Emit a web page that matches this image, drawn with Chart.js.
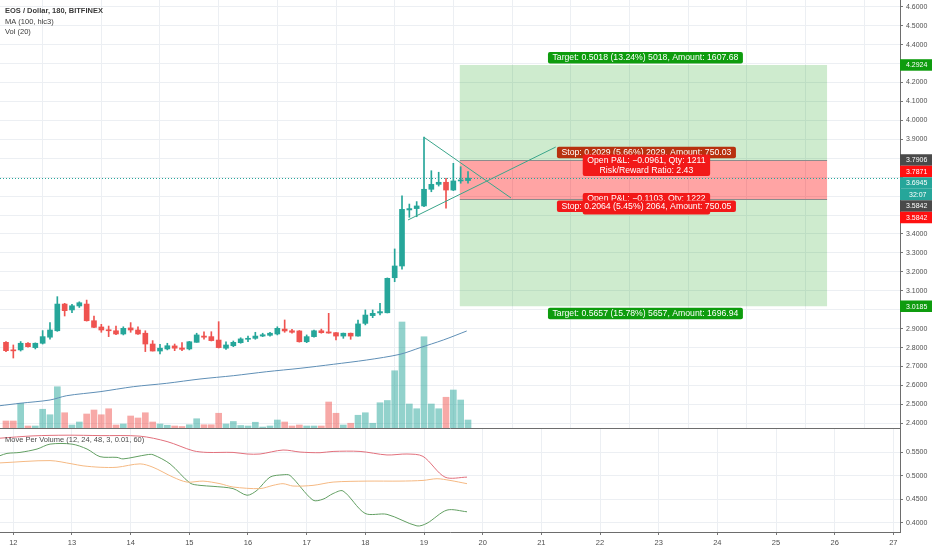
<!DOCTYPE html>
<html>
<head>
<meta charset="utf-8">
<script src="https://cdn.jsdelivr.net/npm/chart.js@4.4.1/dist/chart.umd.min.js"></script>
<style>
  body { margin: 0; background: #fff; }
  #panel-precio { position: absolute; left: 0; top: 0; width: 932px; height: 429px; }
  #panel-mpv { position: absolute; left: 0; top: 429px; width: 932px; height: 121px; }
</style>
</head>
<body>
<div id="panel-precio"><canvas id="grafico-precio"></canvas></div>
<div id="panel-mpv"><canvas id="grafico-mpv"></canvas></div>
<script>
/* Velas de 180 minutos, posición en días del mes */
var tiempos = [11.875, 12, 12.125, 12.25, 12.375, 12.5, 12.625, 12.75, 12.875,
  13, 13.125, 13.25, 13.375, 13.5, 13.625, 13.75, 13.875,
  14, 14.125, 14.25, 14.375, 14.5, 14.625, 14.75, 14.875,
  15, 15.125, 15.25, 15.375, 15.5, 15.625, 15.75, 15.875,
  16, 16.125, 16.25, 16.375, 16.5, 16.625, 16.75, 16.875,
  17, 17.125, 17.25, 17.375, 17.5, 17.625, 17.75, 17.875,
  18, 18.125, 18.25, 18.375, 18.5, 18.625, 18.75, 18.875,
  19, 19.125, 19.25, 19.375, 19.5, 19.625, 19.75];

var aperturas = [2.828, 2.786, 2.788, 2.823, 2.800, 2.823, 2.855, 2.889, 3.030,
  2.999, 3.020, 3.030, 2.942, 2.909, 2.893, 2.889, 2.872,
  2.904, 2.893, 2.876, 2.819, 2.782, 2.793, 2.809, 2.798,
  2.793, 2.828, 2.861, 2.858, 2.840, 2.797, 2.810, 2.826,
  2.844, 2.849, 2.861, 2.865, 2.872, 2.898, 2.889, 2.888,
  2.831, 2.858, 2.889, 2.883, 2.879, 2.861, 2.876, 2.861,
  2.928, 2.969, 2.983, 2.984, 3.169, 3.231, 3.527, 3.534,
  3.548, 3.636, 3.662, 3.673, 3.632, 3.680, 3.682];

var maximos = [2.832, 2.814, 2.832, 2.826, 2.825, 2.890, 2.932, 3.069, 3.034,
  3.028, 3.042, 3.051, 2.967, 2.923, 2.914, 2.914, 2.910,
  2.932, 2.910, 2.889, 2.837, 2.818, 2.823, 2.819, 2.826,
  2.833, 2.876, 2.884, 2.884, 2.937, 2.831, 2.835, 2.852,
  2.861, 2.881, 2.876, 2.881, 2.910, 2.946, 2.897, 2.890,
  2.867, 2.893, 2.898, 2.981, 2.879, 2.877, 2.877, 2.946,
  2.999, 2.999, 3.034, 3.168, 3.321, 3.601, 3.558, 3.571,
  3.911, 3.734, 3.726, 3.694, 3.773, 3.755, 3.729];

var minimos = [2.779, 2.745, 2.782, 2.803, 2.793, 2.819, 2.844, 2.886, 2.967,
  2.985, 3.012, 2.940, 2.905, 2.881, 2.858, 2.868, 2.867,
  2.881, 2.870, 2.779, 2.782, 2.767, 2.788, 2.784, 2.784,
  2.788, 2.828, 2.844, 2.835, 2.798, 2.791, 2.805, 2.823,
  2.831, 2.844, 2.858, 2.861, 2.867, 2.881, 2.876, 2.829,
  2.826, 2.855, 2.876, 2.876, 2.840, 2.849, 2.844, 2.861,
  2.920, 2.958, 2.972, 2.983, 3.148, 3.214, 3.488, 3.491,
  3.544, 3.623, 3.653, 3.536, 3.629, 3.668, 3.668];

var cierres = [2.784, 2.783, 2.823, 2.805, 2.823, 2.858, 2.893, 3.030, 2.995,
  3.021, 3.037, 2.942, 2.907, 2.893, 2.889, 2.872, 2.902,
  2.893, 2.872, 2.819, 2.782, 2.797, 2.810, 2.797, 2.791,
  2.831, 2.867, 2.855, 2.837, 2.800, 2.814, 2.828, 2.846,
  2.849, 2.861, 2.868, 2.876, 2.902, 2.888, 2.881, 2.831,
  2.858, 2.889, 2.879, 2.877, 2.861, 2.876, 2.861, 2.925,
  2.972, 2.981, 2.990, 3.166, 3.231, 3.530, 3.534, 3.548,
  3.636, 3.662, 3.673, 3.632, 3.680, 3.685, 3.6945];

/* Volumen (miles) */
var volumen = [28, 28, 99, 8, 8, 75, 53, 165, 61,
  12, 24, 56, 72, 53, 77, 12, 16,
  48, 40, 61, 24, 16, 11, 8, 6,
  13, 37, 13, 13, 59, 16, 26, 10,
  8, 23, 4, 8, 32, 24, 8, 12,
  8, 8, 8, 104, 59, 12, 19, 51,
  61, 19, 101, 110, 229, 424, 96, 77,
  365, 96, 77, 123, 152, 112, 32];

/* MA (100, hlc3) */
var mediaDias = [11.773, 12.114, 12.626, 12.910, 13.478, 14.045, 14.615, 15.182, 15.750,
  16.319, 16.887, 17.454, 18.024, 18.591, 18.932, 19.329, 19.728];
var mediaValores = [2.4934, 2.5061, 2.5235, 2.5462, 2.5673, 2.5937, 2.6117, 2.6343, 2.6518,
  2.6729, 2.6908, 2.7120, 2.7347, 2.7648, 2.7996, 2.8403, 2.8878];

/* Move Per Volume (12, 24, 48, 3, 0.01, 60) */
var mpvRojoDias = [11.773, 12.336, 12.915, 13.478, 14.160, 14.620, 15.063, 15.302, 15.745, 15.984,
  16.205, 16.597, 16.887, 17.228, 17.450, 17.910, 18.369, 18.710, 18.983, 19.358, 19.733];
var mpvRojo = [0.5804, 0.5853, 0.5868, 0.5859, 0.5847, 0.5732, 0.5536, 0.5500, 0.5500, 0.5466,
  0.5466, 0.5551, 0.5508, 0.5494, 0.5521, 0.5521, 0.5445, 0.5466, 0.5415, 0.4972, 0.4972];

var mpvNaranjaDias = [11.773, 12.626, 13.0, 13.188, 13.478, 13.767, 14.160, 14.381, 14.722, 14.961,
  15.234, 15.523, 15.745, 16.205, 16.427, 16.597, 16.767, 17.108, 17.450, 18.029, 18.591, 18.983,
  19.222, 19.443, 19.733];
var mpvNaranja = [0.5276, 0.5325, 0.5255, 0.5213, 0.5183, 0.5183, 0.5255, 0.5183, 0.4972, 0.4866,
  0.4887, 0.4832, 0.4761, 0.4727, 0.4796, 0.4832, 0.4782, 0.4796, 0.4866, 0.4887, 0.4887, 0.4902,
  0.4938, 0.4902, 0.4832];

var mpvVerdeDias = [11.773, 11.892, 12.114, 12.404, 12.626, 13.0, 13.256, 13.478, 13.767, 13.870,
  14.279, 14.381, 14.671, 15.012, 15.182, 15.404, 15.745, 15.984, 16.154, 16.375, 16.597, 16.716,
  17.108, 17.279, 17.450, 17.620, 17.995, 18.369, 18.880, 19.051, 19.392, 19.733];
var mpvVerde = [0.5430, 0.5479, 0.5500, 0.5572, 0.5677, 0.5677, 0.5572, 0.5409, 0.5394, 0.5361,
  0.5451, 0.5451, 0.5255, 0.4845, 0.4796, 0.4775, 0.4727, 0.4585, 0.4691, 0.4972, 0.5022, 0.5008,
  0.4480, 0.4501, 0.4621, 0.4676, 0.4198, 0.4177, 0.3930, 0.3987, 0.4268, 0.4232];

/* Triángulo dibujado (día, precio) */
var lineaSuperiorDias = [19.0, 20.483];
var lineaSuperiorPrecios = [3.9105, 3.590];
var lineaInferiorDias = [18.728, 21.245];
var lineaInferiorPrecios = [3.474, 3.859];

/* Posiciones larga y corta */
var posicionDias = [19.61, 25.87];
var larga = { entrada: 3.7906, stop: 3.5842, objetivo: 4.2924 };
var corta = { entrada: 3.5842, stop: 3.7871, objetivo: 3.0185 };
var precioActual = 3.6945;

/* Ejes */
var dias = [12, 13, 14, 15, 16, 17, 18, 19, 20, 21, 22, 23, 24, 25, 26, 27];
var ticksPrecio = [2.4, 2.5, 2.6, 2.7, 2.8, 2.9, 3.0, 3.1, 3.2, 3.3, 3.4, 3.5, 3.6, 3.7, 3.8, 3.9,
  4.0, 4.1, 4.2, 4.3, 4.4, 4.5, 4.6];
var ticksOcultos = [4.3, 3.8, 3.7, 3.6, 3.5, 3.0];
var ticksMpv = [0.40, 0.45, 0.50, 0.55];

var etiquetasEje = [
  { valor: 4.2924, texto: '4.2924', color: '#0e9c0e' },
  { valor: 3.7906, texto: '3.7906', color: '#4a4a4a' },
  { valor: 3.7871, texto: '3.7871', color: '#ff1010' },
  { valor: 3.6945, texto: '3.6945', color: '#26a69a' },
  { valor: 3.6945, texto: '32:07', color: '#26a69a' },
  { valor: 3.5842, texto: '3.5842', color: '#4a4a4a' },
  { valor: 3.5842, texto: '3.5842', color: '#ff1010' },
  { valor: 3.0185, texto: '3.0185', color: '#0e9c0e' }
];

var fuente = '"Liberation Sans", Arial, sans-serif';
var verde = '#26a69a';
var rojo = '#ef5350';
var colorRejilla = '#eceff3';

function puntos(xs, ys) {
  return xs.map(function (x, i) { return { x: x, y: ys[i] }; });
}
function esVerde(i) { return cierres[i] >= aperturas[i]; }

function caja(ctx, x, y, w, h, r) {
  ctx.beginPath();
  if (ctx.roundRect) ctx.roundRect(x, y, w, h, r); else ctx.rect(x, y, w, h);
}

function etiqueta(ctx, lineas, cx, arriba, fondo) {
  ctx.save();
  ctx.font = '8.7px ' + fuente;
  var ancho = 0;
  lineas.forEach(function (l) { ancho = Math.max(ancho, ctx.measureText(l).width); });
  var w = ancho + 9, h = lineas.length * 10 + 1.5;
  ctx.fillStyle = fondo;
  caja(ctx, cx - w / 2, arriba, w, h, 2);
  ctx.fill();
  ctx.fillStyle = '#fff';
  ctx.textAlign = 'center';
  ctx.textBaseline = 'middle';
  lineas.forEach(function (l, i) { ctx.fillText(l, cx, arriba + 6 + i * 10); });
  ctx.restore();
}

var pluginPosiciones = {
  id: 'posiciones',
  beforeDatasetsDraw: function (chart) {
    var ctx = chart.ctx, sx = chart.scales.x, sy = chart.scales.y, a = chart.chartArea;
    var x0 = sx.getPixelForValue(posicionDias[0]), x1 = sx.getPixelForValue(posicionDias[1]);
    function zona(p1, p2, color) {
      var y1 = sy.getPixelForValue(p1), y2 = sy.getPixelForValue(p2);
      ctx.fillStyle = color;
      ctx.fillRect(x0, Math.min(y1, y2), x1 - x0, Math.abs(y2 - y1));
    }
    ctx.save();
    zona(larga.entrada, larga.objetivo, 'rgba(10,155,10,0.2)');
    zona(corta.entrada, corta.objetivo, 'rgba(10,155,10,0.2)');
    zona(larga.entrada, larga.stop, 'rgba(255,0,0,0.2)');
    zona(corta.entrada, corta.stop, 'rgba(255,0,0,0.2)');
    ctx.strokeStyle = '#8c8c8c';
    ctx.lineWidth = 1;
    [larga.entrada, corta.entrada].forEach(function (p) {
      var y = Math.round(sy.getPixelForValue(p)) + 0.5;
      ctx.beginPath(); ctx.moveTo(x0, y); ctx.lineTo(x1, y); ctx.stroke();
    });
    // línea de precio actual
    var yp = Math.round(sy.getPixelForValue(precioActual)) + 0.5;
    ctx.strokeStyle = verde;
    ctx.setLineDash([1, 2]);
    ctx.beginPath(); ctx.moveTo(a.left, yp); ctx.lineTo(a.right, yp); ctx.stroke();
    ctx.restore();
  },
  afterDatasetsDraw: function (chart) {
    var ctx = chart.ctx, sx = chart.scales.x, sy = chart.scales.y;
    var cx = (sx.getPixelForValue(posicionDias[0]) + sx.getPixelForValue(posicionDias[1])) / 2 + 3;
    etiqueta(ctx, ['Target: 0.5018 (13.24%) 5018, Amount: 1607.68'], cx - 1, sy.getPixelForValue(larga.objetivo) - 13, '#0e9c0e');
    etiqueta(ctx, ['Stop: 0.2029 (5.66%) 2029, Amount: 750.03'], cx, sy.getPixelForValue(corta.stop) - 14, '#b8310f');
    etiqueta(ctx, ['Open P&L: \u22120.1103, Qty: 1222', 'Risk/Reward Ratio: 2.56'], cx, sy.getPixelForValue(corta.entrada) - 6, '#f21919');
    etiqueta(ctx, ['Open P&L: \u22120.0961, Qty: 1211', 'Risk/Reward Ratio: 2.43'], cx, sy.getPixelForValue(larga.entrada) - 5.5, '#f21919');
    etiqueta(ctx, ['Stop: 0.2064 (5.45%) 2064, Amount: 750.05'], cx, sy.getPixelForValue(larga.stop) + 1.5, '#f21919');
    etiqueta(ctx, ['Target: 0.5657 (15.78%) 5657, Amount: 1696.94'], cx - 1, sy.getPixelForValue(corta.objetivo) + 1.5, '#0e9c0e');
  },
  afterDraw: function (chart) {
    var ctx = chart.ctx, sy = chart.scales.y;
    var previo = -100, alto = 11.5;
    ctx.save();
    ctx.font = '7px ' + fuente;
    ctx.textBaseline = 'middle';
    ctx.textAlign = 'left';
    etiquetasEje.forEach(function (e) {
      var y = Math.max(sy.getPixelForValue(e.valor), previo + alto);
      previo = y;
      ctx.fillStyle = e.color;
      ctx.fillRect(sy.left, y - alto / 2, chart.width - sy.left, alto);
      ctx.fillStyle = '#fff';
      ctx.fillText(e.texto, sy.left + (e.texto.indexOf(':') > 0 ? 9 : 6), y + 0.5);
    });
    // leyenda
    ctx.fillStyle = '#3a3a3a';
    ctx.font = 'bold 7.5px ' + fuente;
    ctx.fillText('EOS / Dollar, 180, BITFINEX', 5, 11);
    ctx.font = '7.5px ' + fuente;
    ctx.fillText('MA (100, hlc3)', 5, 21.5);
    ctx.fillText('Vol (20)', 5, 32);
    ctx.restore();
  }
};

var pluginTituloMpv = {
  id: 'tituloMpv',
  afterDraw: function (chart) {
    var ctx = chart.ctx;
    ctx.save();
    ctx.fillStyle = '#4a4a4a';
    ctx.font = '7.5px ' + fuente;
    ctx.textBaseline = 'middle';
    ctx.fillText('Move Per Volume (12, 24, 48, 3, 0.01, 60)', 5, 11);
    ctx.restore();
  }
};

function sinRelleno(s) {
  s.paddingTop = 0; s.paddingBottom = 0; s.paddingLeft = 0; s.paddingRight = 0;
}

var ejeDias = function (conEtiquetas) {
  return {
    type: 'linear',
    min: 11.773,
    max: 27.113,
    offset: false,
    afterBuildTicks: function (s) { s.ticks = dias.map(function (d) { return { value: d }; }); },
    afterFit: function (s) { sinRelleno(s); s.height = conEtiquetas ? 18 : 1; },
    grid: { color: colorRejilla, drawTicks: conEtiquetas, tickLength: 3, tickColor: '#777' },
    border: { color: '#6d6d6d' },
    ticks: {
      display: conEtiquetas,
      padding: 3,
      maxRotation: 0,
      autoSkip: false,
      color: '#4f4f4f',
      font: { family: fuente, size: 7.5 },
      callback: function (v) { return String(v); }
    }
  };
};

var marco = document.getElementById('grafico-precio').getContext('2d');
var grafico = new Chart(marco, {
  type: 'bar',
  data: {
    datasets: [
      {
        label: 'Cuerpo',
        data: tiempos.map(function (t, i) { return { x: t, y: [aperturas[i], cierres[i]] }; }),
        backgroundColor: function (c) { return esVerde(c.dataIndex) ? verde : rojo; },
        barThickness: 5,
        minBarLength: 1,
        grouped: false,
        order: 1
      },
      {
        label: 'Mecha',
        data: tiempos.map(function (t, i) { return { x: t, y: [minimos[i], maximos[i]] }; }),
        backgroundColor: function (c) { return esVerde(c.dataIndex) ? verde : rojo; },
        barThickness: 1,
        grouped: false,
        order: 2
      },
      {
        type: 'line',
        label: 'Triángulo sup.',
        data: puntos(lineaSuperiorDias, lineaSuperiorPrecios),
        borderColor: '#3aa58a',
        borderWidth: 1,
        pointRadius: 0,
        order: 0
      },
      {
        type: 'line',
        label: 'Triángulo inf.',
        data: puntos(lineaInferiorDias, lineaInferiorPrecios),
        borderColor: '#3aa58a',
        borderWidth: 1,
        pointRadius: 0,
        order: 0
      },
      {
        type: 'line',
        label: 'MA (100, hlc3)',
        data: puntos(mediaDias, mediaValores),
        borderColor: '#5f8fb6',
        borderWidth: 1,
        pointRadius: 0,
        tension: 0.3,
        order: 3
      },
      {
        label: 'Vol (20)',
        data: tiempos.map(function (t, i) { return { x: t, y: volumen[i] }; }),
        backgroundColor: function (c) { return esVerde(c.dataIndex) ? 'rgba(38,166,154,0.5)' : 'rgba(239,83,80,0.5)'; },
        barThickness: 6,
        grouped: false,
        yAxisID: 'yVol',
        order: 4
      }
    ]
  },
  options: {
    responsive: true,
    maintainAspectRatio: false,
    animation: false,
    layout: { padding: 0 },
    plugins: { legend: { display: false }, tooltip: { enabled: false } },
    scales: {
      x: ejeDias(false),
      y: {
        position: 'right',
        min: 2.3756,
        max: 4.6354,
        afterBuildTicks: function (s) { s.ticks = ticksPrecio.map(function (v) { return { value: v }; }); },
        afterFit: function (s) { sinRelleno(s); s.width = 32; },
        grid: { color: colorRejilla, tickLength: 3, tickColor: '#777' },
        border: { color: '#6d6d6d' },
        ticks: {
          padding: 3,
          color: '#4f4f4f',
          font: { family: fuente, size: 7 },
          callback: function (v) {
            var oculto = ticksOcultos.some(function (o) { return Math.abs(o - v) < 1e-6; });
            return oculto ? '' : v.toFixed(4);
          }
        }
      },
      yVol: { axis: 'y', position: 'left', display: false, min: 0, max: 1712 }
    }
  },
  plugins: [pluginPosiciones]
});

var marcoMpv = document.getElementById('grafico-mpv').getContext('2d');
var graficoMpv = new Chart(marcoMpv, {
  type: 'line',
  data: {
    datasets: [
      { label: 'Rojo', data: puntos(mpvRojoDias, mpvRojo), borderColor: '#e2707c', borderWidth: 1, pointRadius: 0, tension: 0.3 },
      { label: 'Naranja', data: puntos(mpvNaranjaDias, mpvNaranja), borderColor: '#f5b983', borderWidth: 1, pointRadius: 0, tension: 0.3 },
      { label: 'Verde', data: puntos(mpvVerdeDias, mpvVerde), borderColor: '#629f62', borderWidth: 1, pointRadius: 0, tension: 0.3 }
    ]
  },
  options: {
    responsive: true,
    maintainAspectRatio: false,
    animation: false,
    layout: { padding: 0 },
    plugins: { legend: { display: false }, tooltip: { enabled: false } },
    scales: {
      x: ejeDias(true),
      y: {
        position: 'right',
        min: 0.380,
        max: 0.600,
        afterBuildTicks: function (s) { s.ticks = ticksMpv.map(function (v) { return { value: v }; }); },
        afterFit: function (s) { sinRelleno(s); s.width = 32; },
        grid: { color: colorRejilla, tickLength: 3, tickColor: '#777' },
        border: { color: '#6d6d6d' },
        ticks: {
          padding: 3,
          color: '#4f4f4f',
          font: { family: fuente, size: 7 },
          callback: function (v) { return v.toFixed(4); }
        }
      }
    }
  },
  plugins: [pluginTituloMpv]
});
</script>
</body>
</html>
